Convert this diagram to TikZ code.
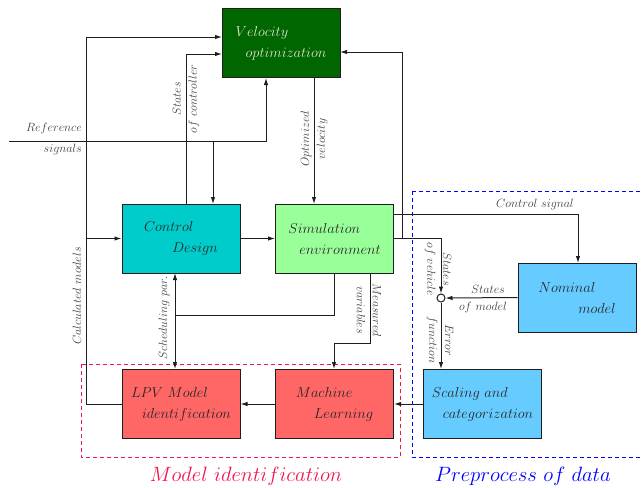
\documentclass[tikz,border=0pt]{standalone}
\usetikzlibrary{arrows.meta}
\definecolor{vgreen}{RGB}{0,102,0}
\definecolor{vtext}{RGB}{225,228,205}
\definecolor{cdcyan}{RGB}{0,204,204}
\definecolor{simgreen}{RGB}{153,255,153}
\definecolor{pblue}{RGB}{102,204,255}
\definecolor{mred}{RGB}{255,102,102}
\definecolor{crim}{RGB}{240,20,80}
\definecolor{ln}{RGB}{30,30,30}
\begin{document}
\begin{tikzpicture}[x=1pt,y=-1pt,
  box/.style={draw=ln,line width=1pt,minimum width=118pt,minimum height=69pt,inner sep=0pt,align=left,font=\Large,text=black!85},
  wire/.style={draw=ln,line width=1pt},
  arr/.style={wire,-{Latex[length=7pt,width=4.5pt]}},
  lbl/.style={font=\large,text=black!75,inner sep=0pt,align=center},
  grp/.style={dashed,line width=0.8pt,dash pattern=on 4pt off 3pt}]
\useasboundingbox (0,0) rectangle (641,488);
% boxes
\node[box,fill=vgreen,text=vtext] (vel) at (281,43) {$Velocity$\\[3pt]\hspace*{10pt}$optimization$};
\node[box,fill=cdcyan] (cd) at (181,238.5) {$Control$\\[3pt]\hspace*{28pt}$Design$};
\node[box,fill=simgreen] (sim) at (334.5,238.5) {$Simulation$\\[3pt]\hspace*{11pt}$environment$};
\node[box,fill=pblue] (nom) at (577,297.5) {$Nominal$\\[3pt]\hspace*{40pt}$model$};
\node[box,fill=pblue] (sc) at (482.5,404) {$Scaling\ and$\\[3pt]\hspace*{11pt}$categorization$};
\node[box,fill=mred] (lpv) at (181,404) {$LPV\ Model$\\[3pt]\hspace*{11pt}$identification$};
\node[box,fill=mred] (ml) at (334.5,404) {$Machine$\\[3pt]\hspace*{18pt}$Learning$};
\node[draw=ln,line width=1pt,fill=white,circle,minimum size=8pt,inner sep=0pt] (sum) at (441,298) {};
% groups
\draw[grp,draw=crim] (81,364) rectangle (400,457);
\draw[grp,draw=blue] (412,191) -- (641,191) (412,191) -- (412,457) -- (641,457);
\node[font=\huge,text=crim] (gm) at (246,476) {$Model\ identification$};
\node[font=\huge,text=blue] (gp) at (523,476) {$Preprocess\ of\ data$};
% coordinates
\coordinate (refs) at (9,141);
\coordinate (refc) at (266,141);
\coordinate (cmx) at (86,404);
% reference signals
\draw[arr] (refs) -- (refc) -- (refc |- vel.south);
\draw[arr] (213,141) -- (213,204);
\node[lbl,anchor=south east] (lref) at (82,134) {$Reference$};
\node[lbl,anchor=north east] (lsig) at (82,144) {$signals$};
% calculated models
\draw[arr] (lpv.west) -- (cmx) -- (86,37) -- (222,37);
\draw[arr] (86,238.5) -- (cd.west);
\node[lbl,rotate=90] (lcm) at (77,296) {$Calculated\ models$};
% states of controller
\draw[arr] (186,204) -- (186,54) -- (222,54);
\node[lbl,rotate=90] (lsc) at (186,99) {$States$\\[2pt]$of\ controller$};
% control -> sim
\draw[arr] (cd.east) -- (sim.west);
% optimized velocity
\draw[arr] (314,78) -- (314,204);
\node[lbl,rotate=90] (lov) at (314,139) {$Optimized$\\[2pt]$velocity$};
% sim -> velocity feedback and states of vehicle
\draw[wire] (sim.east) -- (402,238.5);
\draw[arr] (402,238.5) -- (402,52) -- (340,52);
\draw[arr] (402,238.5) -- (441,238.5) -- (sum.north);
\node[lbl,rotate=-90] (lsv) at (438,269) {$States$\\[2pt]$of\ vehicle$};
% control signal
\draw[arr] (393,214) -- (578,214) -- (578,263);
\node[lbl,anchor=south] (lcs) at (535,210) {$Control\ signal$};
% states of model
\draw[arr] (nom.west) -- (sum.east);
\node[lbl,anchor=south] (lsm) at (488,294) {$States$};
\node[lbl,anchor=north] (lom) at (483,302) {$of\ model$};
% error function
\draw[arr] (sum.south) -- (441,369);
\node[lbl,rotate=-90] (lef) at (440,340) {$Error$\\[2pt]$function$};
% scaling -> ML -> LPV
\draw[arr] (sc.west) -- (ml.east);
\draw[arr] (ml.west) -- (lpv.east);
% measured variables
\draw[arr] (370,273) -- (370,343) -- (334,343) -- (334,369);
\node[lbl,rotate=-90] (lmv) at (369,310) {$Measured$\\[2pt]$variables$};
% scheduling par
\draw[wire] (334,273) -- (334,315) -- (175,315);
\draw[arr] (175,315) -- (175,273);
\draw[arr] (175,315) -- (175,369);
\node[lbl,rotate=90] (lsp) at (164,318) {$Scheduling\ par.$};
\end{tikzpicture}
\end{document}
